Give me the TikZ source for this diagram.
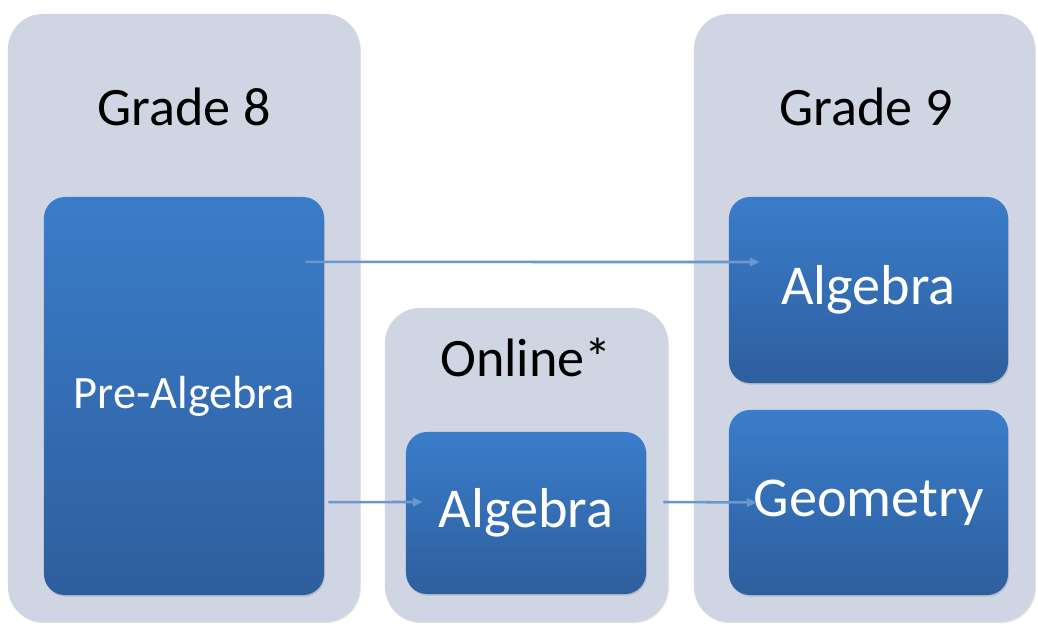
\documentclass[tikz,border=0pt]{standalone}
\usepackage{fontspec}
\setmainfont{Carlito}
\usepackage{xcolor}
\usetikzlibrary{arrows.meta, shadows}

\definecolor{grpfill}{HTML}{CFD5E3}
\definecolor{boxtop}{HTML}{3A7DCA}
\definecolor{boxbot}{HTML}{2E5E9E}
\definecolor{linkblue}{HTML}{6A97CD}

\tikzset{
  grp/.style={rounded corners=25pt, fill=grpfill, draw=none,
    drop shadow={opacity=0.2, shadow xshift=0.6pt, shadow yshift=-0.8pt}},
  course/.style={rounded corners=15pt, draw=none, top color=boxtop, bottom color=boxbot,
    text=white, font=\fontsize{40}{48}\selectfont,
    drop shadow={opacity=0.3, shadow xshift=0.6pt, shadow yshift=-1.2pt}},
  head/.style={text=black, font=\fontsize{38.5}{46}\selectfont},
  link/.style={draw=linkblue, line width=1.8pt, -{Triangle[length=7pt, width=6pt, fill=linkblue!85!boxtop]}}
}

\begin{document}
\begin{tikzpicture}[x=0.025cm, y=-0.025cm]
  \useasboundingbox[fill=white] (0,0) rectangle (1038,625);

  % les trois colonnes
  \node[grp, minimum width=8.8cm, minimum height=15.2cm] (grade8) at (184,318) {};
  \node[grp, minimum width=7.075cm, minimum height=7.85cm] (online) at (526.5,465) {};
  \node[grp, minimum width=8.525cm, minimum height=15.2cm] (grade9) at (864.5,318) {};

  % titres
  \node[head] (grade8t) at (184,107) {Grade 8};
  \node[head] (onlinet) at (526,357) {Online*};
  \node[head] (grade9t) at (866,107) {Grade 9};

  % les cours
  \node[course, minimum width=7cm, minimum height=9.95cm, font=\fontsize{33}{40}\selectfont] (prealg) at (184,396) {Pre-Algebra};
  \node[course, minimum width=6cm, minimum height=4.05cm] (onalg) at (526,513) {Algebra};
  \node[course, minimum width=6.975cm, minimum height=4.65cm] (alg9) at (868.5,290) {Algebra};
  \node[course, minimum width=6.975cm, minimum height=4.625cm] (geom) at (868.5,502.5) {Geometry};

  % liaisons
  \draw[link] ([xshift=-0.475cm, yshift=3.35cm]prealg.east) -- ([xshift=0.775cm, yshift=0.7cm]alg9.west);
  \draw[link] ([xshift=0.1cm, yshift=-2.65cm]prealg.east) -- ([xshift=0.425cm, yshift=0.275cm]onalg.west);
  \draw[link] ([xshift=0.425cm, yshift=0.275cm]onalg.east) -- ([xshift=0.7cm]geom.west);
\end{tikzpicture}
\end{document}
